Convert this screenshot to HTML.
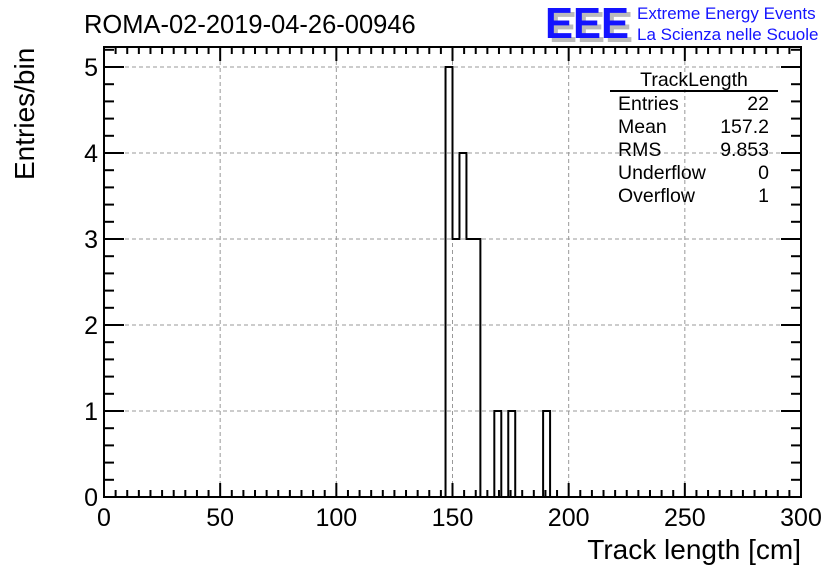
<!DOCTYPE html>
<html><head><meta charset="utf-8"><style>
body{margin:0;background:#fff;}
svg{display:block;font-family:"Liberation Sans",sans-serif;}
</style></head><body>
<svg id="c" width="836" height="572">
<text x="84" y="33" font-size="25.5">ROMA-02-2019-04-26-00946</text>
<g>
<text x="549" y="42" font-size="44" font-weight="bold" fill="#bbb" textLength="84" lengthAdjust="spacingAndGlyphs">EEE</text>
<text x="545" y="38" font-size="44" font-weight="bold" fill="#1414ff" textLength="84" lengthAdjust="spacingAndGlyphs">EEE</text>
<text x="637" y="19" font-size="17" fill="#1414ff">Extreme Energy Events</text>
<text x="637" y="40" font-size="17" fill="#1414ff">La Scienza nelle Scuole</text>
</g>
<g id="grid"></g>
<g id="axes"></g>
<path id="hist" fill="none" stroke="#000" stroke-width="2"/>
<g font-size="19.5">
<text x="694" y="86" text-anchor="middle">TrackLength</text>
<line x1="610" y1="91" x2="778" y2="91" stroke="#000" stroke-width="2"/>
<text x="618" y="110">Entries</text><text x="769" y="110" text-anchor="end">22</text>
<text x="618" y="133">Mean</text><text x="769" y="133" text-anchor="end">157.2</text>
<text x="618" y="156">RMS</text><text x="769" y="156" text-anchor="end">9.853</text>
<text x="618" y="179">Underflow</text><text x="769" y="179" text-anchor="end">0</text>
<text x="618" y="202">Overflow</text><text x="769" y="202" text-anchor="end">1</text>
</g>
<text x="801" y="559" font-size="28" text-anchor="end">Track length [cm]</text>
<text transform="translate(34,180) rotate(-90)" font-size="28">Entries/bin</text>
</svg>
<script>
const binLow=[147,150,153,156,159,168,174,189];
const binCounts=[5,3,4,3,3,1,1,1];
const binWidth=3;
const xTicks=[0,50,100,150,200,250,300];
const yTicks=[0,1,2,3,4,5];
const L=104,R=801,T=47,B=497;
const X=v=>L+(v-0)/(300-0)*(R-L);
const Y=v=>B-v/5*(497-67);
const ns="http://www.w3.org/2000/svg";
function mk(t,a,p){const e=document.createElementNS(ns,t);for(const k in a)e.setAttribute(k,a[k]);p.appendChild(e);return e;}
const grid=document.getElementById('grid'),axes=document.getElementById('axes'),svg=document.getElementById('c');
xTicks.forEach(v=>{if(v>0&&v<300){const g=mk('line',{x1:X(v),x2:X(v),y1:T,y2:B,stroke:'#999','stroke-dasharray':'4,3'},grid);

}});
yTicks.forEach(v=>{if(v>0){const g=mk('line',{x1:L,x2:R,y1:Y(v),y2:Y(v),stroke:'#999','stroke-dasharray':'4,3'},grid);

}});
const f=mk('rect',{x:L,y:T,width:R-L,height:B-T,fill:'none',stroke:'#000','stroke-width':2},axes);


for(let v=0;v<=300;v+=5){const maj=v%50===0,len=maj?14:7;
mk('line',{x1:X(v),x2:X(v),y1:B,y2:B-len,stroke:'#000','stroke-width':2},axes);
mk('line',{x1:X(v),x2:X(v),y1:T,y2:T+len,stroke:'#000','stroke-width':2},axes);}
for(let i=0;i<=27;i++){const v=i*0.2;if(Y(v)<T)break;const maj=i%5===0,len=maj?20:10;
mk('line',{x1:L,x2:L+len,y1:Y(v),y2:Y(v),stroke:'#000','stroke-width':2},axes);
mk('line',{x1:R,x2:R-len,y1:Y(v),y2:Y(v),stroke:'#000','stroke-width':2},axes);}
xTicks.forEach(v=>{const t=mk('text',{x:X(v),y:526,'font-size':25,'text-anchor':'middle'},svg);t.textContent=v;

});
yTicks.forEach(v=>{const t=mk('text',{x:98,y:Y(v)+9,'font-size':25,'text-anchor':'end'},svg);t.textContent=v;

});
let d='',prevEnd=null;
binLow.forEach((lo,i)=>{const hi=lo+binWidth,c=binCounts[i];
if(prevEnd===null||Math.abs(prevEnd-lo)>1e-9){if(prevEnd!==null)d+=`L${X(prevEnd)},${Y(0)}`;d+=`M${X(lo)},${Y(0)}`;}
d+=`L${X(lo)},${Y(c)}L${X(hi)},${Y(c)}`;prevEnd=hi;});
d+=`L${X(prevEnd)},${Y(0)}`;
document.getElementById('hist').setAttribute('d',d);
</script>
</body></html>
